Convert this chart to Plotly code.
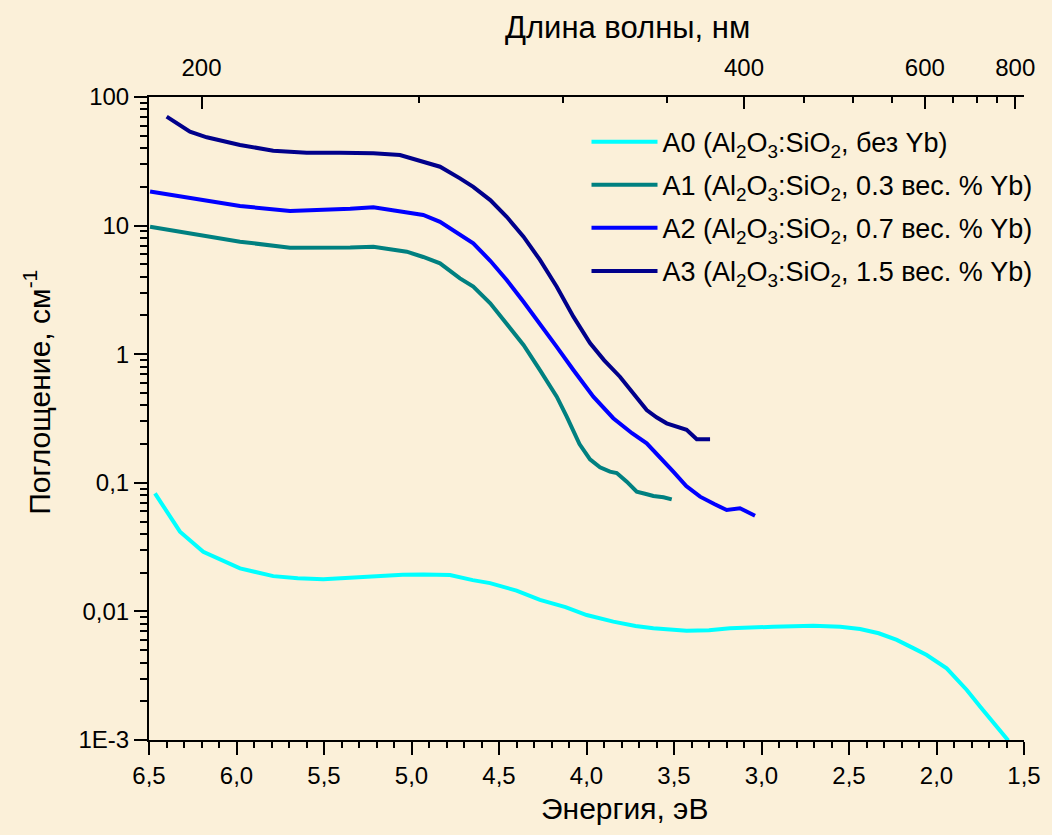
import plotly.graph_objects as go

# ---------------- data ----------------
E_A0 = [6.466, 6.40, 6.323, 6.19, 6.08, 5.98, 5.79, 5.65, 5.504, 5.35, 5.218, 5.05, 4.933, 4.78,
        4.65, 4.551, 4.40, 4.266, 4.12, 3.999, 3.847, 3.72, 3.618, 3.428, 3.30, 3.18, 2.933, 2.704,
        2.55, 2.437, 2.33, 2.227, 2.13, 2.056, 1.942, 1.88, 1.827, 1.75, 1.675, 1.63, 1.59]
A0 = [0.0828, 0.060, 0.0417, 0.0291, 0.0248, 0.0216, 0.0188, 0.0181, 0.0178, 0.0184, 0.0188, 0.0193,
      0.0194, 0.0192, 0.0175, 0.0166, 0.0145, 0.0123, 0.0108, 0.00937, 0.00832, 0.00770, 0.00739,
      0.00708, 0.00715, 0.00739, 0.00760, 0.00774, 0.00760, 0.00730, 0.00676, 0.00600, 0.00516,
      0.00458, 0.00361, 0.00296, 0.00245, 0.00181, 0.00135, 0.00116, 0.00099]

E_A1 = [6.494, 6.266, 5.98, 5.694, 5.504, 5.35, 5.218, 5.027, 4.933, 4.837, 4.723, 4.647, 4.55,
        4.456, 4.36, 4.266, 4.17, 4.113, 4.075, 4.04, 3.980, 3.923, 3.866, 3.827, 3.77, 3.713,
        3.66, 3.618, 3.56, 3.513]
A1 = [9.8, 8.71, 7.50, 6.73, 6.68, 6.75, 6.86, 6.27, 5.7, 5.09, 3.89, 3.35, 2.49,
      1.74, 1.18, 0.753, 0.468, 0.327, 0.255, 0.200, 0.152, 0.132, 0.122, 0.119, 0.102, 0.0853,
      0.0818, 0.0789, 0.0772, 0.0744]

E_A2 = [6.494, 6.266, 5.98, 5.694, 5.504, 5.35, 5.218, 5.027, 4.933, 4.837, 4.723, 4.647, 4.55,
        4.456, 4.36, 4.266, 4.17, 4.075, 3.961, 3.847, 3.809, 3.74, 3.656, 3.62, 3.580, 3.504,
        3.43, 3.351, 3.27, 3.199, 3.123, 3.037]
A2 = [18.4, 16.3, 14.2, 13.0, 13.2, 13.5, 13.9, 12.8, 12.1, 10.7, 8.45, 7.27, 5.33,
      3.78, 2.56, 1.74, 1.14, 0.753, 0.468, 0.318, 0.290, 0.243, 0.203, 0.180, 0.160, 0.122,
      0.0944, 0.078, 0.0684, 0.0614, 0.0634, 0.0555]

E_A3 = [6.399, 6.33, 6.266, 6.17, 5.98, 5.79, 5.599, 5.409, 5.218, 5.066, 4.933, 4.837, 4.723,
        4.647, 4.55, 4.456, 4.36, 4.266, 4.17, 4.075, 3.980, 3.90, 3.809, 3.73, 3.656, 3.60,
        3.542, 3.428, 3.370, 3.294]
A3 = [70.3, 60.5, 53.7, 48.6, 42.4, 38.2, 36.9, 36.9, 36.5, 35.4, 31.4, 28.7, 23.3,
      20.0, 15.8, 11.7, 8.2, 5.41, 3.35, 1.96, 1.22, 0.90, 0.668, 0.497, 0.368, 0.323,
      0.290, 0.258, 0.218, 0.218]

names = ["A0 (Al<sub>2</sub>O<sub>3</sub>:SiO<sub>2</sub>, без Yb)",
         "A1 (Al<sub>2</sub>O<sub>3</sub>:SiO<sub>2</sub>, 0.3 вес. % Yb)",
         "A2 (Al<sub>2</sub>O<sub>3</sub>:SiO<sub>2</sub>, 0.7 вес. % Yb)",
         "A3 (Al<sub>2</sub>O<sub>3</sub>:SiO<sub>2</sub>, 1.5 вес. % Yb)"]
colors = ["#00FFFF", "#008080", "#0000FF", "#00008B"]

y_tickvals = [0.001, 0.01, 0.1, 1, 10, 100]
y_ticktext = ["1E-3", "0,01", "0,1", "1", "10", "100"]
y_minor = [k * 10 ** n for n in range(-3, 2) for k in range(2, 10)]

wl_major = [200, 400, 600, 800]
wl_minor = [250, 300, 350, 450, 500, 550, 650, 700, 750]
HC = 1240.0

FONT = "Arial"
BG = "#FBF0D9"

fig = go.Figure()
for E, v, n, c in zip([E_A0, E_A1, E_A2, E_A3], [A0, A1, A2, A3], names, colors):
    fig.add_trace(go.Scatter(x=E, y=v, mode="lines", name=n, legendgroup=n,
                             line=dict(color=c, width=4)))

# invisible trace for the top (wavelength) axis
fig.add_trace(go.Scatter(x=[6.5, 1.5], y=[1, 1], xaxis="x2", mode="lines",
                         line=dict(width=0), showlegend=False, hoverinfo="skip"))

fig.update_layout(
    width=1052, height=835,
    margin=dict(l=149, r=28, t=97, b=95),
    paper_bgcolor=BG, plot_bgcolor=BG,
    separators=", ",
    font=dict(family=FONT, size=24, color="black"),
    showlegend=True,
    legend=dict(x=0.5, y=0.968, xanchor="left", yanchor="top",
                bgcolor="rgba(0,0,0,0)", font=dict(size=27, family=FONT),
                tracegroupgap=5, itemwidth=66),
    xaxis=dict(range=[6.5, 1.5], tickmode="linear", tick0=1.5, dtick=0.5, tickformat=".1f",
               showline=True, linecolor="black", linewidth=2, mirror=False,
               ticks="outside", ticklen=13, tickwidth=2, tickcolor="black",
               showgrid=False, zeroline=False,
               minor=dict(ticks="outside", dtick=0.1, ticklen=6, tickwidth=2,
                          tickcolor="black", showgrid=False),
               tickfont=dict(size=24)),
    xaxis2=dict(overlaying="x", side="top", range=[6.5, 1.5],
                tickmode="array", tickvals=[HC / w for w in wl_major],
                ticktext=[str(w) for w in wl_major],
                showline=True, linecolor="black", linewidth=2,
                ticks="inside", ticklen=12, tickwidth=2, tickcolor="black",
                showgrid=False, zeroline=False, ticklabelstandoff=9,
                minor=dict(ticks="inside", tickmode="array", tickvals=[HC / w for w in wl_minor],
                           ticklen=6, tickwidth=2, tickcolor="black", showgrid=False),
                tickfont=dict(size=24)),
    yaxis=dict(type="log", range=[-3, 2], tickmode="array", tickvals=y_tickvals,
               ticktext=y_ticktext,
               showline=True, linecolor="black", linewidth=2,
               ticks="outside", ticklen=13, tickwidth=2, tickcolor="black",
               showgrid=False, zeroline=False,
               minor=dict(ticks="outside", tickmode="array", tickvals=y_minor,
                          ticklen=7, tickwidth=2, tickcolor="black", showgrid=False),
               tickfont=dict(size=24)),
)

fig.add_annotation(text="Энергия, эВ", xref="paper", yref="paper", x=0.543, y=-0.107,
                   yanchor="middle", xanchor="center", showarrow=False,
                   font=dict(size=30, family=FONT))
fig.add_annotation(text="Длина волны, нм", xref="paper", yref="paper", x=0.547, y=1.108,
                   yanchor="middle", xanchor="center", showarrow=False,
                   font=dict(size=31, family=FONT))
fig.add_annotation(text="Поглощение, см<sup>-1</sup>", xref="paper", yref="paper",
                   x=-0.128, y=0.54, xanchor="center", yanchor="middle", textangle=-90,
                   showarrow=False, font=dict(size=30, family=FONT))

fig.write_html("out.html")
